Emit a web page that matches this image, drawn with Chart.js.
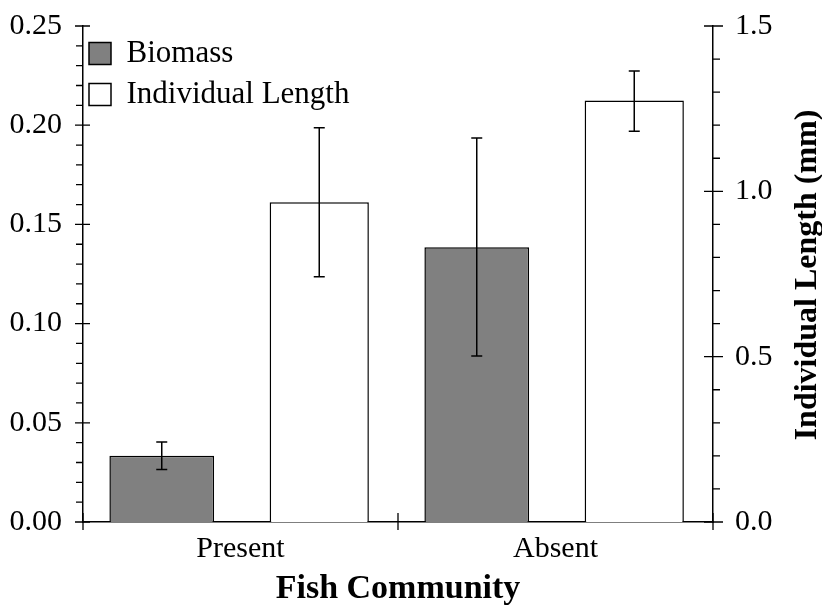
<!DOCTYPE html>
<html>
<head>
<meta charset="utf-8">
<title>Fish Community</title>
<script src="https://cdn.jsdelivr.net/npm/chart.js@4/dist/chart.umd.min.js"></script>
<style>
  html, body { margin: 0; padding: 0; background: #fff; }
  #wrap { width: 822px; height: 610px; }
</style>
</head>
<body>
<div id="wrap"><canvas id="mycanvas" width="822" height="610"></canvas></div>
<script>
// ---- data ----
var categories = ["Present", "Absent"];

var biomass     = [0.0334, 0.1385];
var biomassLow  = [0.0264, 0.0837];
var biomassHigh = [0.0403, 0.1935];

var lengthMm     = [0.967, 1.275];
var lengthLow    = [0.742, 1.182];
var lengthHigh   = [1.192, 1.364];

var leftMajor = 0.05, leftMinor = 0.01, leftMax = 0.25;
var rightMajor = 0.5, rightMinor = 0.1, rightMax = 1.5;

var serif = "'Liberation Serif', 'Times New Roman', serif";

function isMajor(v, step) {
  return Math.abs(Math.round(v / step) * step - v) < 1e-9;
}

// error bars, drawn through each bar
var errorBars = {
  id: "errorBars",
  afterDatasetsDraw: function(chart) {
    var ctx = chart.ctx;
    ctx.save();
    ctx.strokeStyle = "#000";
    ctx.lineWidth = 1.5;
    chart.data.datasets.forEach(function(ds, i) {
      var meta = chart.getDatasetMeta(i);
      var sc = chart.scales[ds.yAxisID];
      meta.data.forEach(function(bar, j) {
        var yl = sc.getPixelForValue(ds.errLow[j]);
        var yh = sc.getPixelForValue(ds.errHigh[j]);
        var cap = 5.5;
        ctx.beginPath();
        ctx.moveTo(bar.x, yl); ctx.lineTo(bar.x, yh);
        ctx.moveTo(bar.x - cap, yl); ctx.lineTo(bar.x + cap, yl);
        ctx.moveTo(bar.x - cap, yh); ctx.lineTo(bar.x + cap, yh);
        ctx.stroke();
      });
    });
    ctx.restore();
  }
};

// legend sits inside the plot, top left (chart.js resets its top to 0)
var legendPlace = {
  id: "legendPlace",
  afterLayout: function(chart) {
    var lg = chart.legend, a = chart.chartArea;
    var h = lg.height, w = lg.width;
    lg.top = a.top + 2;
    lg.bottom = lg.top + h;
    lg.left = a.left - 4;
    lg.right = lg.left + w;
  }
};

// tick marks: majors cross the axis, minors point outward
var tickMarks = {
  id: "tickMarks",
  afterDraw: function(chart) {
    var ctx = chart.ctx, a = chart.chartArea;
    ctx.save();
    ctx.strokeStyle = "#000";
    ctx.lineWidth = 1.3;
    ctx.beginPath();
    var y = chart.scales.y;
    y.ticks.forEach(function(t) {
      var p = y.getPixelForValue(t.value);
      if (isMajor(t.value, leftMajor)) { ctx.moveTo(a.left - 8, p); ctx.lineTo(a.left + 7, p); }
      else { ctx.moveTo(a.left - 7, p); ctx.lineTo(a.left, p); }
    });
    var y1 = chart.scales.y1;
    y1.ticks.forEach(function(t) {
      var p = y1.getPixelForValue(t.value);
      if (isMajor(t.value, rightMajor)) { ctx.moveTo(a.right - 9, p); ctx.lineTo(a.right + 10, p); }
      else { ctx.moveTo(a.right, p); ctx.lineTo(a.right + 7, p); }
    });
    var x = chart.scales.x;
    var edges = [a.left, a.right];
    for (var i = 0; i < categories.length - 1; i++) {
      edges.push((x.getPixelForValue(i) + x.getPixelForValue(i + 1)) / 2);
    }
    edges.forEach(function(px) { ctx.moveTo(px, a.bottom - 9); ctx.lineTo(px, a.bottom + 8); });
    ctx.stroke();

    // right axis title, reading bottom to top
    ctx.fillStyle = "#000";
    ctx.font = "bold 32px " + serif;
    ctx.textAlign = "center";
    ctx.textBaseline = "middle";
    ctx.translate(808, (a.top + a.bottom) / 2 + 1);
    ctx.rotate(-Math.PI / 2);
    ctx.fillText("Individual Length (mm)", 0, 0);
    ctx.restore();
  }
};

var data = {
  labels: categories,
  datasets: [
    {
      label: "Biomass",
      data: biomass,
      errLow: biomassLow,
      errHigh: biomassHigh,
      yAxisID: "y",
      backgroundColor: "#808080",
      borderColor: "#000",
      borderWidth: 1.5,
      barPercentage: 0.665,
      categoryPercentage: 1.0
    },
    {
      label: "Individual Length",
      data: lengthMm,
      errLow: lengthLow,
      errHigh: lengthHigh,
      yAxisID: "y1",
      backgroundColor: "#fff",
      borderColor: "#000",
      borderWidth: 1.5,
      barPercentage: 0.63,
      categoryPercentage: 1.0
    }
  ]
};

function fixWidth(w) {
  return function(s) { s.width = w; s.paddingTop = 0; s.paddingBottom = 0; };
}

var opts = {
  responsive: false,
  animation: false,
  layout: { padding: { top: 26, left: 0, right: 0, bottom: 0 } },
  plugins: {
    tooltip: { enabled: false },
    legend: {
      position: "chartArea",
      align: "start",
      labels: {
        boxWidth: 22,
        boxHeight: 22,
        padding: 10,
        color: "#000",
        font: { family: serif, size: 31 }
      }
    }
  },
  scales: {
    x: {
      grid: { display: false, drawTicks: false },
      border: { display: true, color: "#000", width: 1.5 },
      ticks: { color: "#000", padding: 9, font: { family: serif, size: 30 } },
      title: {
        display: true,
        text: "Fish Community",
        color: "#000",
        font: { family: serif, size: 34, weight: "bold" },
        padding: { top: 0, bottom: 0 }
      },
      afterFit: function(s) { s.height = 88; }
    },
    y: {
      position: "left",
      min: 0,
      max: leftMax,
      grid: { display: false, drawTicks: false },
      border: { display: true, color: "#000", width: 1.5 },
      ticks: {
        stepSize: leftMinor,
        autoSkip: false,
        padding: 21,
        color: "#000",
        font: { family: serif, size: 30 },
        callback: function(v) { return isMajor(v, leftMajor) ? v.toFixed(2) : ""; }
      },
      afterFit: fixWidth(83)
    },
    y1: {
      position: "right",
      min: 0,
      max: rightMax,
      grid: { display: false, drawTicks: false },
      border: { display: true, color: "#000", width: 1.5 },
      ticks: {
        stepSize: rightMinor,
        autoSkip: false,
        padding: 22,
        color: "#000",
        font: { family: serif, size: 30 },
        callback: function(v) { return isMajor(v, rightMajor) ? v.toFixed(1) : ""; }
      },
      afterFit: fixWidth(109)
    }
  }
};

window.onload = function() {
  new Chart(document.getElementById("mycanvas").getContext("2d"), {
    type: "bar",
    data: data,
    options: opts,
    plugins: [errorBars, legendPlace, tickMarks]
  });
};
</script>
</body>
</html>
